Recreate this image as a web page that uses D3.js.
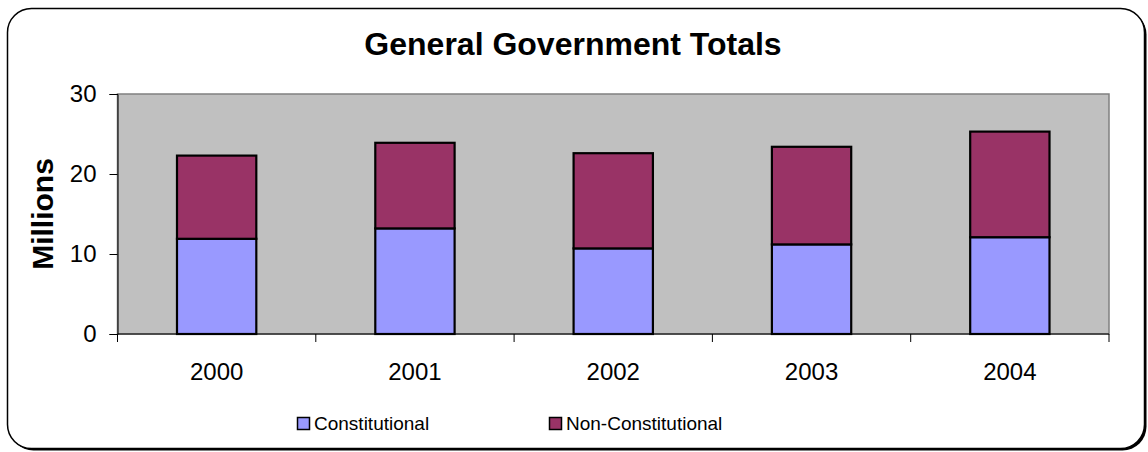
<!DOCTYPE html>
<html>
<head>
<meta charset="utf-8">
<script src="https://cdn.jsdelivr.net/npm/d3@7"></script>
<style>
  html, body { margin: 0; padding: 0; background: #fff; }
  svg { display: block; font-family: "Liberation Sans", Arial, sans-serif; }
</style>
</head>
<body>
<svg id="chart" width="1148" height="452"></svg>
<script>
// Years along the x axis
const years = ["2000", "2001", "2002", "2003", "2004"];
// Stacked series, in millions
const constitutional = [11.9, 13.2, 10.7, 11.2, 12.1];
const nonConstitutional = [10.4, 10.7, 11.9, 12.2, 13.2];
const seriesNames = ["Constitutional", "Non-Constitutional"];
const seriesColors = ["#9999ff", "#993366"];
const yTicks = [0, 10, 20, 30];

const svg = d3.select("#chart");

// Outer frame with rounded corners and a drop shadow on the right/bottom
const fx = 7.5, fy = 8.5, fw = 1137, fh = 440, r = 24;
svg.append("rect")
  .attr("x", fx + 2).attr("y", fy + 2).attr("width", fw).attr("height", fh)
  .attr("rx", r).attr("ry", r)
  .attr("fill", "#000");
svg.append("rect")
  .attr("x", fx).attr("y", fy).attr("width", fw).attr("height", fh)
  .attr("rx", r).attr("ry", r)
  .attr("fill", "#fff").attr("stroke", "#000").attr("stroke-width", 1.5);

// Plot area
const plot = { left: 117.5, right: 1109, top: 94, bottom: 334 };

const x = d3.scaleBand()
  .domain(years)
  .range([plot.left, plot.right])
  .paddingInner(0.6)
  .paddingOuter(0.3);

const y = d3.scaleLinear()
  .domain([0, 30])
  .range([plot.bottom, plot.top]);

svg.append("rect")
  .attr("x", plot.left).attr("y", plot.top)
  .attr("width", plot.right - plot.left).attr("height", plot.bottom - plot.top)
  .attr("fill", "#c0c0c0")
  .attr("stroke", "#808080").attr("stroke-width", 1.5);

// Stack the two series
const rows = years.map((yr, i) => ({
  year: yr,
  "Constitutional": constitutional[i],
  "Non-Constitutional": nonConstitutional[i]
}));
const stacked = d3.stack().keys(seriesNames)(rows);

svg.append("g").selectAll("g")
  .data(stacked)
  .join("g")
  .attr("fill", (d, i) => seriesColors[i])
  .selectAll("rect")
  .data(d => d)
  .join("rect")
  .attr("x", d => x(d.data.year))
  .attr("width", x.bandwidth())
  .attr("y", d => y(d[1]))
  .attr("height", d => y(d[0]) - y(d[1]))
  .attr("stroke", "#000")
  .attr("stroke-width", 2.2);

// Y axis
const yAxis = d3.axisLeft(y)
  .tickValues(yTicks)
  .tickSize(8)
  .tickPadding(13)
  .tickFormat(d3.format("d"));
const gy = svg.append("g")
  .attr("transform", `translate(${plot.left},0)`)
  .call(yAxis);
gy.select(".domain").attr("stroke", "#000").attr("stroke-width", 1);
gy.selectAll(".tick line").attr("stroke", "#000");
gy.selectAll(".tick text")
  .attr("font-size", 24)
  .attr("font-family", "Liberation Sans, Arial, sans-serif")
  .attr("fill", "#000");

// X axis: ticks sit on category boundaries, labels centred under bars
const boundaries = d3.range(years.length + 1).map(i => plot.left + i * x.step());
const gx = svg.append("g");
gx.append("line")
  .attr("x1", plot.left).attr("x2", plot.right)
  .attr("y1", plot.bottom).attr("y2", plot.bottom)
  .attr("stroke", "#000").attr("stroke-width", 1);
gx.selectAll("line.tick")
  .data(boundaries)
  .join("line")
  .attr("class", "tick")
  .attr("x1", d => d).attr("x2", d => d)
  .attr("y1", plot.bottom).attr("y2", plot.bottom + 8)
  .attr("stroke", "#000");
gx.selectAll("text")
  .data(years)
  .join("text")
  .attr("x", d => x(d) + x.bandwidth() / 2)
  .attr("y", 380)
  .attr("text-anchor", "middle")
  .attr("font-size", 24)
  .text(d => d);

// Y axis title
svg.append("text")
  .attr("transform", `translate(53,${(plot.top + plot.bottom) / 2}) rotate(-90)`)
  .attr("text-anchor", "middle")
  .attr("font-size", 30)
  .attr("font-weight", "bold")
  .text("Millions");

// Chart title
svg.append("text")
  .attr("x", 573)
  .attr("y", 55)
  .attr("text-anchor", "middle")
  .attr("font-size", 32)
  .attr("font-weight", "bold")
  .text("General Government Totals");

// Legend
const legendX = [297, 549];
const legend = svg.append("g").selectAll("g")
  .data(seriesNames)
  .join("g")
  .attr("transform", (d, i) => `translate(${legendX[i]},417)`);
legend.append("rect")
  .attr("x", 0.5).attr("y", 0.5)
  .attr("width", 12).attr("height", 12)
  .attr("fill", (d, i) => seriesColors[i])
  .attr("stroke", "#000").attr("stroke-width", 1.5);
legend.append("text")
  .attr("x", 17)
  .attr("y", 13)
  .attr("font-size", 19)
  .text(d => d);
</script>
</body>
</html>
